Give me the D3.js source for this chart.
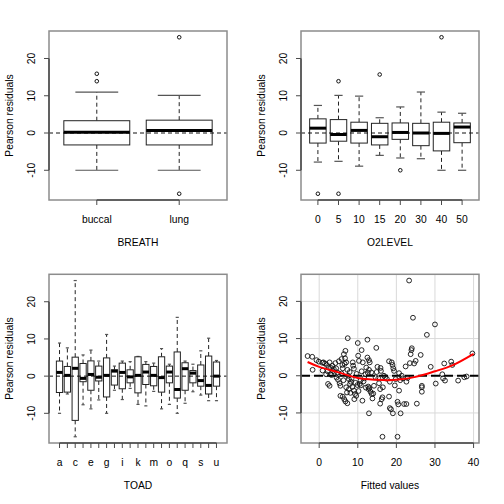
<!DOCTYPE html>
<html><head><meta charset="utf-8">
<script src="https://cdn.jsdelivr.net/npm/d3@7"></script>
<style>
body{margin:0;background:#fff}
svg{display:block}
text{font-family:"Liberation Sans",Arial,Helvetica,sans-serif;font-size:10.3px;fill:#000}
</style>
</head><body>
<svg id="c" width="504" height="504"></svg>
<script>
// ---------------- DATA ----------------
// five-number summaries: [lower whisker, Q1, median, Q3, upper whisker]
const breathCats = ["buccal", "lung"];
const breathStats = [
  [-10.0, -3.2, 0.2, 3.3, 11.0],
  [-10.0, -3.2, 0.7, 3.45, 10.1]
];
const breathOutliers = [[13.9, 15.9], [25.7, -16.3]];

const o2Cats = ["0", "5", "10", "15", "20", "30", "40", "50"];
const o2Stats = [
  [-7.8, -2.7, 1.3, 3.8, 7.4],
  [-7.6, -2.2, -0.4, 3.6, 10.1],
  [-8.9, -2.7, 0.7, 2.9, 9.9],
  [-6.0, -3.2, -1.0, 2.6, 4.1],
  [-6.7, -1.7, 0.15, 2.7, 7.0],
  [-6.9, -3.4, 0.0, 2.6, 11.0],
  [-10.0, -4.8, -0.1, 2.9, 5.6],
  [-10.0, -2.6, 1.6, 2.7, 5.3]
];
const o2Outliers = [[-16.3], [13.9, -16.3], [], [15.7], [-10.0], [], [25.7], []];

const toadCats = ["a","b","c","d","e","f","g","h","i","j","k","l","m","n","o","p","q","r","s","t","u"];
const toadStats = [
  [-10.0, -4.4, 1.0, 4.05, 8.9],
  [-4.8, -4.3, 0.2, 2.6, 7.6],
  [-16.3, -11.9, 2.1, 5.1, 25.7],
  [-7.7, -1.5, -0.6, 3.4, 5.7],
  [-8.8, -3.8, 0.45, 4.1, 7.0],
  [-6.4, -1.3, -0.3, 2.7, 4.05],
  [-10.0, -5.6, 0.2, 4.9, 11.2],
  [-3.8, -2.4, 1.35, 1.7, 2.7],
  [-6.3, -3.4, 1.0, 3.5, 4.05],
  [-3.3, -1.8, -0.2, 1.7, 3.9],
  [-7.6, -4.5, 0.2, 5.2, 5.3],
  [-8.0, -2.25, 1.1, 3.15, 3.9],
  [-4.1, -2.6, 0.2, 2.6, 3.5],
  [-8.8, -4.3, -0.4, 5.2, 7.4],
  [-7.6, -1.8, 1.1, 2.7, 3.2],
  [-10.0, -5.9, -3.6, 6.5, 15.8],
  [-7.3, -3.8, 2.0, 3.6, 4.05],
  [-4.2, -1.8, 0.8, 1.5, 3.2],
  [-5.1, -2.7, -1.2, 3.0, 6.8],
  [-6.6, -4.8, -2.5, 5.4, 10.2],
  [-6.6, -2.7, 0.0, 3.8, 4.2]
];
const toadOutliers = toadCats.map(() => []);
const toadTickLabels = ["a","c","e","g","i","k","m","o","q","s","u"];

const fittedValues = [
 -3.0,-1.8,-1.7,-0.7,-0.1,0.8,1.1,1.5,0.9,2.0,2.3,2.7,2.7,2.5,2.9,3.2,3.4,3.6,4.2,4.4,
 4.7,4.9,4.9,5.3,5.5,5.5,6.1,5.8,6.0,6.1,6.4,6.8,6.7,7.0,7.3,7.4,7.5,7.7,8.0,7.7,
 7.2,6.5,6.8,7.3,8.2,8.6,8.7,8.8,9.0,9.3,9.1,9.6,9.9,10.0,10.1,10.3,10.5,10.7,11.0,11.2,
 11.3,11.7,12.0,12.2,12.5,12.5,12.7,12.8,12.9,13.1,12.9,12.9,13.3,13.6,13.8,14.2,14.6,14.8,15.1,15.3,
 15.8,15.9,16.0,15.8,16.2,16.4,16.4,16.8,17.1,18.1,18.3,18.1,18.3,18.6,18.8,19.0,19.2,19.1,19.4,19.8,
 20.3,20.3,20.5,20.7,20.7,21.1,21.4,21.7,22.0,22.4,22.6,22.6,23.3,23.5,23.7,23.9,24.0,24.3,24.6,25.0,
 25.3,26.3,26.6,26.6,26.6,27.9,28.9,30.0,30.2,31.9,32.1,32.4,32.6,34.2,34.5,36.0,37.6,38.2,39.7,
 3.8,4.5,5.8,6.3,7.9,8.4,9.4,9.7,10.8,11.5,12.1,13.0,13.5,14.0,14.9,15.5,6.6,5.1,3.1,1.8,
 2.2,9.0,11.0,12.6,16.5,17.5,19.6,21.0,22.9,8.1,10.2,7.0
];
const residuals = [
 5.3,5.1,1.6,4.2,3.8,3.5,3.6,3.3,1.4,2.9,-2.2,-2.7,3.6,2.2,0.4,0.2,2.7,1.3,3.4,2.0,
 0.9,0.3,-1.1,-2.0,-2.7,-5.4,-5.6,4.5,2.9,2.0,5.8,6.7,4.7,3.6,1.6,10.1,0.0,-0.9,-2.2,-3.6,
 -4.5,-6.3,-6.9,-7.4,-1.6,-3.0,3.6,2.7,-4.0,-4.9,-6.3,-5.4,-2.5,8.8,5.4,4.0,-2.2,-1.3,6.9,-6.7,
 3.6,-0.7,0.4,2.2,9.7,4.9,-2.9,-3.6,4.2,3.6,1.6,-10.1,-4.3,-4.9,-6.1,-2.7,-0.4,7.5,2.4,-0.7,
 -3.6,2.1,1.3,-7.5,-6.3,-5.8,-16.4,0.0,-0.4,3.9,-1.6,-5.6,-8.7,-9.0,3.6,2.9,2.0,-10.1,1.3,-0.9,
 -7.0,-16.4,-7.7,0.7,-4.0,-10.1,0.0,-0.7,-7.6,2.5,-7.6,-1.6,25.6,3.4,5.8,6.9,7.4,15.6,3.3,4.0,
 -7.5,5.6,-2.7,-3.1,-4.3,11.0,2.4,13.8,-2.1,0.4,-0.7,3.3,-1.3,3.8,2.9,-1.3,-0.4,-0.2,6.0,
 1.8,-0.5,0.6,-1.2,1.0,-0.8,-1.9,0.5,-2.6,-1.5,-3.2,-3.3,0.9,-4.8,1.0,-2.0,3.2,3.9,2.1,0.4,
 1.2,1.9,1.2,0.8,-3.1,-0.8,-2.6,-1.2,-0.6,-4.6,-4.1,-3.1
];
// smoother (red line)
const smoothX = [-3, 0, 5, 10, 15, 18, 20, 25, 30, 34.5, 40];
const smoothY = [3.7, 2.4, 0.9, -0.6, -1.1, -1.2, -1.1, -0.3, 1.2, 2.8, 5.9];
const yTicks = [-10, 0, 10, 20];
const xFitTicks = [0, 10, 20, 30, 40];

// ---------------- DRAWING ----------------
const svg = d3.select("#c");
const frameColor = "#8c8c8c";
const axisColor = "#4a4a4a";

function padded(ext, f = 0.04) { const e = (ext[1] - ext[0]) * f; return [ext[0] - e, ext[1] + e]; }

function drawYAxis(g, y, x0, labelX) {
  g.append("line").attr("x1", x0).attr("x2", x0)
    .attr("y1", y(yTicks[0])).attr("y2", y(yTicks[yTicks.length - 1]))
    .attr("stroke", axisColor).attr("stroke-width", 1.5);
  yTicks.forEach(t => {
    g.append("line").attr("x1", x0 - 5).attr("x2", x0).attr("y1", y(t)).attr("y2", y(t))
      .attr("stroke", axisColor).attr("stroke-width", 1);
    g.append("text").attr("transform", `translate(${labelX},${y(t)}) rotate(-90)`)
      .attr("text-anchor", "middle").text(t);
  });
}

function drawTitles(g, x0, x1, y0, y1, xlab, ylabX) {
  g.append("text").attr("transform", `translate(${ylabX},${(y0 + y1) / 2}) rotate(-90)`)
    .attr("text-anchor", "middle").text("Pearson residuals");
  g.append("text").attr("x", (x0 + x1) / 2).attr("y", y1 + 45.5)
    .attr("text-anchor", "middle").text(xlab);
}

function boxPanel(cats, stats, outliers, tickLabels, xlab, x0, x1, y0, y1, capFrac, outR, offX) {
  const g = svg.append("g");
  const n = cats.length;
  const x = d3.scaleLinear().domain(padded([0.5, n + 0.5])).range([x0, x1]);
  const allVals = stats.flat().concat(outliers.flat());
  const y = d3.scaleLinear().domain(padded(d3.extent(allVals))).range([y1, y0]);
  const bw = (x(2) - x(1)) * 0.8;

  stats.forEach((s, i) => {
    const cx = x(i + 1);
    // whiskers
    g.append("line").attr("x1", cx).attr("x2", cx).attr("y1", y(s[3])).attr("y2", y(s[4]))
      .attr("stroke", "#222").attr("stroke-dasharray", "4,3");
    g.append("line").attr("x1", cx).attr("x2", cx).attr("y1", y(s[1])).attr("y2", y(s[0]))
      .attr("stroke", "#222").attr("stroke-dasharray", "4,3");
    const cw = bw * capFrac / 2;
    [s[0], s[4]].forEach(v => g.append("line").attr("x1", cx - cw).attr("x2", cx + cw)
      .attr("y1", y(v)).attr("y2", y(v)).attr("stroke", "#555").attr("stroke-width", 1.2));
    g.append("rect").attr("x", cx - bw / 2).attr("y", y(s[3])).attr("width", bw)
      .attr("height", y(s[1]) - y(s[3])).attr("fill", "#fff").attr("stroke", "#222").attr("stroke-width", 1);
  });
  // zero reference line
  g.append("line").attr("x1", x0).attr("x2", x1).attr("y1", y(0)).attr("y2", y(0))
    .attr("stroke", "#111").attr("stroke-dasharray", "4,3");
  stats.forEach((s, i) => {
    const cx = x(i + 1);
    g.append("line").attr("x1", cx - bw / 2).attr("x2", cx + bw / 2).attr("y1", y(s[2])).attr("y2", y(s[2]))
      .attr("stroke", "#000").attr("stroke-width", 3);
    outliers[i].forEach(v => g.append("circle").attr("cx", cx).attr("cy", y(v)).attr("r", outR)
      .attr("fill", "none").attr("stroke", "#111").attr("stroke-width", 1));
  });
  // frame
  g.append("rect").attr("x", x0).attr("y", y0).attr("width", x1 - x0).attr("height", y1 - y0)
    .attr("fill", "none").attr("stroke", frameColor).attr("stroke-width", 1.5);
  // x axis
  g.append("line").attr("x1", x(1)).attr("x2", x(n)).attr("y1", y1).attr("y2", y1)
    .attr("stroke", axisColor).attr("stroke-width", 1.5);
  cats.forEach((c, i) => {
    g.append("line").attr("x1", x(i + 1)).attr("x2", x(i + 1)).attr("y1", y1).attr("y2", y1 + 5)
      .attr("stroke", axisColor).attr("stroke-width", 1);
    if (tickLabels.includes(c))
      g.append("text").attr("x", x(i + 1)).attr("y", y1 + 22.7).attr("text-anchor", "middle").text(c);
  });
  drawYAxis(g, y, x0, offX + 35);
  drawTitles(g, x0, x1, y0, y1, xlab, offX + 13.3);
}

function scatterPanel(x0, x1, y0, y1, offX) {
  const g = svg.append("g");
  const x = d3.scaleLinear().domain(padded(d3.extent(fittedValues))).range([x0, x1]);
  const y = d3.scaleLinear().domain(padded(d3.extent(residuals))).range([y1, y0]);
  xFitTicks.forEach(t => g.append("line").attr("x1", x(t)).attr("x2", x(t)).attr("y1", y0).attr("y2", y1)
    .attr("stroke", "#d9d9d9").attr("stroke-width", 1));
  yTicks.forEach(t => g.append("line").attr("x1", x0).attr("x2", x1).attr("y1", y(t)).attr("y2", y(t))
    .attr("stroke", "#d9d9d9").attr("stroke-width", 1));
  g.append("line").attr("x1", x0).attr("x2", x1).attr("y1", y(0)).attr("y2", y(0))
    .attr("stroke", "#000").attr("stroke-width", 2).attr("stroke-dasharray", "9,4");
  fittedValues.forEach((fv, i) => g.append("circle").attr("cx", x(fv)).attr("cy", y(residuals[i]))
    .attr("r", 2.4).attr("fill", "none").attr("stroke", "#111").attr("stroke-width", 0.9));
  const line = d3.line().x(d => x(d[0])).y(d => y(d[1])).curve(d3.curveCatmullRom);
  g.append("path").attr("d", line(smoothX.map((v, i) => [v, smoothY[i]])))
    .attr("fill", "none").attr("stroke", "#ff0000").attr("stroke-width", 2);
  g.append("rect").attr("x", x0).attr("y", y0).attr("width", x1 - x0).attr("height", y1 - y0)
    .attr("fill", "none").attr("stroke", frameColor).attr("stroke-width", 1.5);
  g.append("line").attr("x1", x(xFitTicks[0])).attr("x2", x(xFitTicks[xFitTicks.length - 1])).attr("y1", y1).attr("y2", y1)
    .attr("stroke", axisColor).attr("stroke-width", 1.5);
  xFitTicks.forEach(t => {
    g.append("line").attr("x1", x(t)).attr("x2", x(t)).attr("y1", y1).attr("y2", y1 + 5)
      .attr("stroke", axisColor).attr("stroke-width", 1);
    g.append("text").attr("x", x(t)).attr("y", y1 + 22.7).attr("text-anchor", "middle").text(t);
  });
  drawYAxis(g, y, x0, offX + 35);
  drawTitles(g, x0, x1, y0, y1, "Fitted values", offX + 13.3);
}

boxPanel(breathCats, breathStats, breathOutliers, breathCats, "BREATH", 49, 227, 31, 200, 0.65, 1.8, 0);
boxPanel(o2Cats, o2Stats, o2Outliers, o2Cats, "O2LEVEL", 301, 479, 31, 200, 0.5, 1.8, 252);
boxPanel(toadCats, toadStats, toadOutliers, toadTickLabels, "TOAD", 49, 227, 274.3, 443, 0.5, 1.8, 0);
scatterPanel(301, 479, 274.3, 443, 252);
</script>
</body></html>
